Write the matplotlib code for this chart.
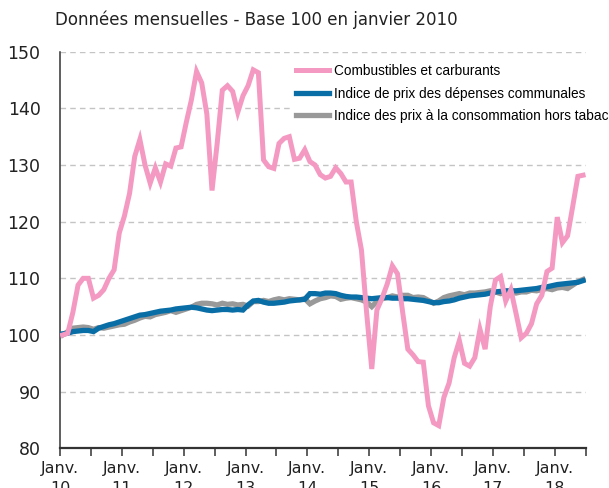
import matplotlib
matplotlib.use("Agg")
import matplotlib.pyplot as plt

# monthly values, Jan 2010 .. Jun 2018 (base 100 = Jan 2010)
combustibles = [
    100.0, 100.3, 104.0, 108.8, 110.0, 110.0, 106.5, 107.0, 108.0, 110.0,
    111.5, 118.0, 121.0, 125.0, 131.5, 134.5, 130.0, 126.8, 129.5, 127.0,
    130.2, 129.8, 133.0, 133.2, 137.5, 141.5, 146.5, 144.5, 139.0, 125.5,
    133.8, 143.2, 144.0, 143.0, 139.3, 142.2, 144.0, 146.8, 146.3, 130.9,
    129.7, 129.4, 133.8, 134.7, 135.0, 131.0, 131.2, 132.7, 130.6, 130.0,
    128.3, 127.7, 128.0, 129.5, 128.5, 127.0, 127.0, 120.0, 115.0, 104.0,
    94.0, 104.4, 106.5, 109.0, 112.2, 110.8, 104.0, 97.5, 96.5, 95.3,
    95.2, 87.5, 84.5, 84.0, 89.0, 91.5, 96.0, 99.0, 95.0, 94.5,
    96.0, 101.0, 97.5, 105.0, 109.7, 110.3, 106.0, 108.0, 103.8, 99.5,
    100.3, 102.0, 105.5, 107.0, 111.2, 111.8, 120.8, 116.3, 117.5, 122.7,
    128.0, 128.2,
]

depenses_communales = [
    100.2, 100.3, 100.6, 100.7, 100.8, 100.8, 100.6, 101.2, 101.5, 101.8,
    102.0, 102.3, 102.6, 102.9, 103.2, 103.5, 103.6, 103.8, 104.0, 104.2,
    104.3, 104.4, 104.6, 104.7, 104.8, 104.9, 104.8, 104.6, 104.4, 104.3,
    104.4, 104.5, 104.5, 104.4, 104.5, 104.4, 105.3, 106.0, 106.1, 105.8,
    105.6, 105.6, 105.7, 105.8, 106.0, 106.1, 106.2, 106.3, 107.3, 107.3,
    107.2, 107.4, 107.4, 107.3, 107.0, 106.8, 106.7, 106.7, 106.6, 106.5,
    106.4, 106.5, 106.6, 106.6, 106.5, 106.5, 106.4, 106.4, 106.3, 106.2,
    106.1, 105.9, 105.7, 105.7, 105.9, 106.0, 106.2, 106.5, 106.7, 106.9,
    107.0, 107.1, 107.2, 107.4, 107.6, 107.7, 107.8, 107.8, 107.8, 107.9,
    108.0, 108.1, 108.2, 108.4, 108.5, 108.7, 108.9, 109.0, 109.1, 109.2,
    109.3, 109.6,
]

ipc_hors_tabac = [
    100.0, 100.6, 101.2, 101.3, 101.4, 101.3, 101.0, 101.3, 101.2, 101.4,
    101.6, 101.8, 101.9, 102.3, 102.6, 103.0, 103.3, 103.2, 103.6, 103.8,
    104.0, 104.3, 104.0, 104.3, 104.6, 104.9, 105.4, 105.6, 105.6, 105.5,
    105.3, 105.6, 105.4, 105.5, 105.3, 105.4, 105.1, 105.9, 105.9, 106.1,
    105.9, 106.2, 106.4, 106.2, 106.4, 106.3, 106.2, 106.4, 105.5, 106.0,
    106.4, 106.6, 106.9, 106.8, 106.3, 106.5, 106.6, 106.4, 106.2, 105.8,
    105.0, 105.9, 106.4, 106.6, 106.9, 106.7, 107.0, 107.0, 106.6, 106.7,
    106.6, 106.1, 105.6, 106.0, 106.6, 106.9, 107.1, 107.3, 107.1, 107.4,
    107.4, 107.5, 107.6, 107.8, 107.6, 107.3, 107.5, 107.5, 107.4, 107.6,
    107.6, 107.9, 107.8, 108.0, 108.2, 108.0, 108.3, 108.4, 108.2, 108.8,
    109.4, 109.8,
]

labels = ["Combustibles et carburants",
          "Indice de prix des dépenses communales",
          "Indice des prix à la consommation hors tabac"]
years = ["10", "11", "12", "13", "14", "15", "16", "17", "18"]

pink = "#F49AC2"
blue = "#0A6EA6"
grey = "#999999"

x = [m + 0.5 for m in range(len(combustibles))]

fig = plt.figure(figsize=(6.09, 4.88), dpi=100)
ax = fig.add_axes([60 / 609, 1 - 448.3 / 488, 525.6 / 609, 396.6 / 488])

ax.plot(x, ipc_hors_tabac, color=grey, lw=3.8, solid_joinstyle="miter", zorder=3, label=labels[2])
ax.plot(x, depenses_communales, color=blue, lw=3.8, solid_joinstyle="miter", zorder=4, label=labels[1])
ax.plot(x, combustibles, color=pink, lw=3.6, solid_joinstyle="miter", zorder=5, label=labels[0])

ax.set_ylim(80, 150)
ax.set_xlim(0, 102)
ax.set_yticks(range(80, 151, 10))
for v in range(90, 151, 10):
    ax.axhline(v, color="#C4C4C4", lw=1.0, ls=(0, (4, 3)), zorder=1)

ticks = list(range(0, 103, 6))
ax.set_xticks(ticks)
tick_labels = []
for t in ticks:
    if t % 12 == 0 and t // 12 < len(years):
        tick_labels.append("Janv.\n" + years[t // 12])
    else:
        tick_labels.append("")
ax.set_xticklabels(tick_labels, linespacing=1.45)

for s in ["top", "right"]:
    ax.spines[s].set_visible(False)
ax.spines["left"].set_color("#333333")
ax.spines["bottom"].set_color("#333333")
ax.spines["left"].set_linewidth(1.1)
ax.spines["bottom"].set_linewidth(1.6)
ax.tick_params(axis="y", length=0, pad=14, labelsize=12.5, colors="#222222")
ax.tick_params(axis="x", length=6, width=1.1, color="#333333", pad=3,
               labelsize=11.5, labelcolor="#222222")

fig.text(55 / 609, 1 - 20 / 488, "Données mensuelles - Base 100 en janvier 2010",
         fontsize=12, color="#222222", va="center", ha="left")

h, l = ax.get_legend_handles_labels()
leg = ax.legend(h[::-1], l[::-1], loc="upper left",
                bbox_to_anchor=(292 / 609, 1 - 60 / 488), bbox_transform=fig.transFigure,
                frameon=True, facecolor="white", edgecolor="none", framealpha=1,
                fontsize=9.8, handlelength=2.4, handletextpad=0.4,
                labelspacing=0.62, borderpad=0.3, borderaxespad=0,
                prop={"family": "Liberation Sans", "size": 9.8})
leg.set_zorder(6)

fig.savefig("out.png", dpi=100)
